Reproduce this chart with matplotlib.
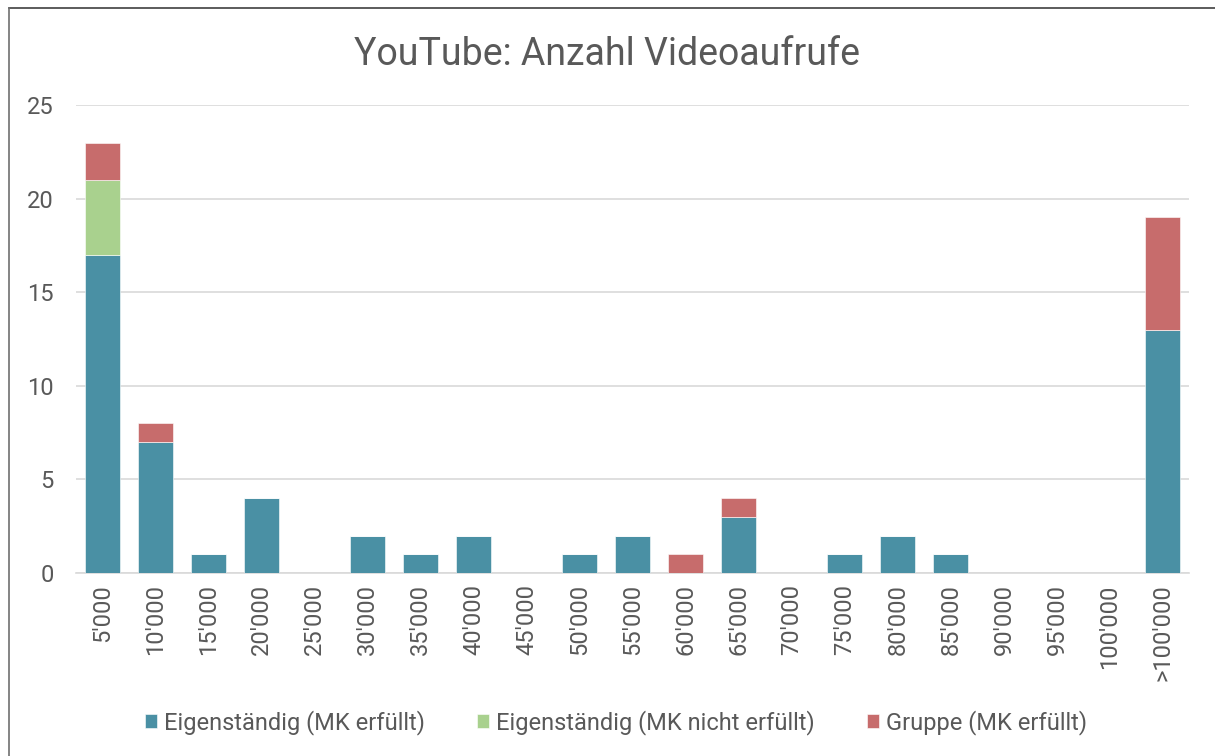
import numpy as np
import matplotlib.pyplot as plt
from matplotlib.lines import Line2D

plt.rcParams["font.family"] = ["Roboto", "DejaVu Sans"]

categories = ["5'000", "10'000", "15'000", "20'000", "25'000", "30'000", "35'000",
              "40'000", "45'000", "50'000", "55'000", "60'000", "65'000", "70'000",
              "75'000", "80'000", "85'000", "90'000", "95'000", "100'000", ">100'000"]
eigen_ok = [17, 7, 1, 4, 0, 2, 1, 2, 0, 1, 2, 0, 3, 0, 1, 2, 1, 0, 0, 0, 13]
eigen_nicht = [4, 0, 0, 0, 0, 0, 0, 0, 0, 0, 0, 0, 0, 0, 0, 0, 0, 0, 0, 0, 0]
gruppe = [2, 1, 0, 0, 0, 0, 0, 0, 0, 0, 0, 1, 1, 0, 0, 0, 0, 0, 0, 0, 6]

text_color = "#595959"
grid_color = "#d9d9d9"

W, H = 1215, 756
fig = plt.figure(figsize=(W / 100, H / 100), dpi=100)
ax = fig.add_axes([0.0626, 0.242, 0.9164, 0.619])

x = np.arange(len(categories))
a = np.array(eigen_ok)
b = np.array(eigen_nicht)
c = np.array(gruppe)
w = 0.66
ax.bar(x, a, width=w, color="#4a90a4", edgecolor="white", linewidth=0.4,
       label="Eigenständig (MK erfüllt)", zorder=3)
ax.bar(x, b, width=w, bottom=a, color="#a9d18e", edgecolor="white", linewidth=0.4,
       label="Eigenständig (MK nicht erfüllt)", zorder=3)
ax.bar(x, c, width=w, bottom=a + b, color="#c76c6c", edgecolor="white", linewidth=0.4,
       label="Gruppe (MK erfüllt)", zorder=3)

ax.set_xlim(-0.5, len(categories) - 0.5)
ax.set_ylim(0, 25)
ax.set_yticks(range(0, 26, 5))
ax.set_xticks(x)
ax.set_xticklabels(categories, rotation=90, fontsize=17, color=text_color)
ax.tick_params(axis="y", labelsize=17, labelcolor=text_color, length=0, pad=16)
ax.tick_params(axis="x", length=0, pad=8)
ax.grid(axis="y", color=grid_color, linewidth=1.2, zorder=0)
for s in ["top", "right", "left"]:
    ax.spines[s].set_visible(False)
ax.spines["bottom"].set_color(grid_color)
ax.spines["bottom"].set_linewidth(1.2)

fig.suptitle("YouTube: Anzahl Videoaufrufe", fontsize=27, color=text_color, y=0.953)
fig.legend(loc="lower center", bbox_to_anchor=(0.507, 0.0), ncol=3, frameon=False,
           fontsize=17, labelcolor=text_color, handlelength=0.5, handleheight=0.5,
           columnspacing=2.2, handletextpad=0.3)

# Rahmen oben und links (Screenshot ist rechts/unten abgeschnitten)
fig.add_artist(Line2D([8.5 / W, 1], [1 - 7.5 / H, 1 - 7.5 / H], transform=fig.transFigure,
                      color="#404040", linewidth=1.2))
fig.add_artist(Line2D([8.5 / W, 8.5 / W], [0, 1 - 7.5 / H], transform=fig.transFigure,
                      color="#707070", linewidth=1.2))

fig.savefig("out.png", dpi=100)
